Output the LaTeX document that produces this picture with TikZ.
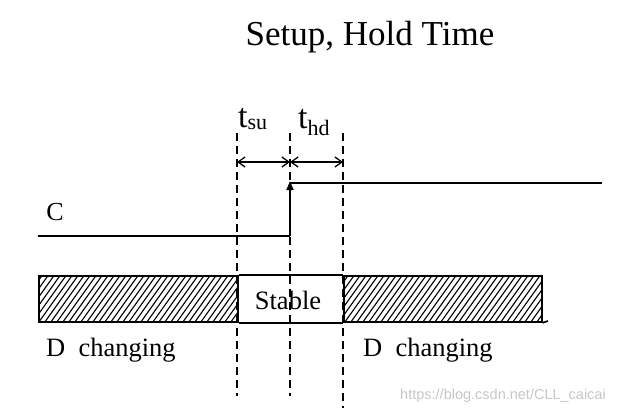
\documentclass[tikz,border=0pt]{standalone}
\usepackage{fontspec}
\setmainfont{Liberation Serif}
\newfontfamily\wmfont{Liberation Sans}
\usetikzlibrary{arrows.meta}
\newcommand{\subtxt}[2]{\raisebox{#1}{\fontsize{22}{24}\selectfont #2}}
\begin{document}
\begin{tikzpicture}[x=1pt,y=-1pt,
  sig/.style={line width=1.7pt,black},
  guide/.style={line width=1.6pt,dash pattern=on 8pt off 5pt},
  dim/.style={line width=1.3pt,{Straight Barb[length=7pt,width=10pt]}-{Straight Barb[length=7pt,width=10pt]}},
  hatchline/.style={line width=1.1pt},
  lbl/.style={inner sep=0pt,font=\fontsize{26.5}{28}\selectfont},
  tlbl/.style={inner sep=0pt,anchor=base west,font=\fontsize{34}{36}\selectfont}]
\useasboundingbox[fill=white] (0,0) rectangle (618,413);

% title
\node[inner sep=0pt,font=\fontsize{35}{40}\selectfont] (title) at (370,37) {Setup, Hold Time};

% guide coordinates
\coordinate (g1top) at (237,133);
\coordinate (g2top) at (290,133);
\coordinate (g3top) at (343,133);
\coordinate (g1bot) at (237,396);
\coordinate (g2bot) at (290,396);
\coordinate (g3bot) at (343,408);
\draw[guide] (g1top) -- (g1bot);
\draw[guide] (g2top) -- (g2bot);
\draw[guide] (g3top) -- (g3bot);

% dimension arrows
\coordinate (d1) at (237,162);
\coordinate (d2) at (290,162);
\coordinate (d3) at (343,162);
\draw[dim] (d1) -- (d2);
\draw[dim] (d2) -- (d3);
\node[tlbl] (tsu) at (238,127) {t\subtxt{-2pt}{su}};
\node[tlbl] (thd) at (298,128) {t\subtxt{-7pt}{hd}};

% clock C
\node[inner sep=0pt,font=\fontsize{26}{28}\selectfont] (clabel) at (55,212) {C};
\coordinate (c0) at (38,236);
\coordinate (c1) at (290,236);
\coordinate (c2) at (290,183);
\coordinate (c3) at (602,183);
\draw[sig] (c0) -- (c1);
\draw[sig,-{Triangle[length=9pt,width=7pt]}] (c1) -- ([yshift=2pt]c2);
\draw[sig] (c2) -- (c3);

% data row
\begin{scope}
  \clip (38,275) rectangle (237,321);
  \foreach \i in {0,6,...,240} \draw[hatchline] (\i,326) -- ++(40,-56);
\end{scope}
\begin{scope}
  \clip (343,275) rectangle (541,321);
  \foreach \i in {300,306,...,560} \draw[hatchline] (\i,326) -- ++(40,-56);
\end{scope}
\node[draw,line width=1.7pt,minimum width=199pt,minimum height=46pt,inner sep=0pt,anchor=north west] (dleft) at (38,275) {};
\node[draw,line width=1.7pt,minimum width=198pt,minimum height=46pt,inner sep=0pt,anchor=north west] (dright) at (343,275) {};
\coordinate (bend) at (548,321);
\draw[sig] (dleft.north east) -- (dright.north west);
\draw[sig] (dleft.south east) -- (dright.south west);
\draw[sig] (dright.south east) -- (bend);
\node[lbl] (stable) at (288,300) {Stable};
\node[lbl,anchor=west] (dch1) at (46,350) {D\ \ changing};
\node[lbl,anchor=west] (dch2) at (363,350) {D\ \ changing};

% watermark
\node[inner sep=0pt,text=black!22,font=\wmfont\fontsize{14.5}{16}\selectfont] (wm) at (503,396) {https://blog.csdn.net/CLL\_caicai};
\end{tikzpicture}
\end{document}
